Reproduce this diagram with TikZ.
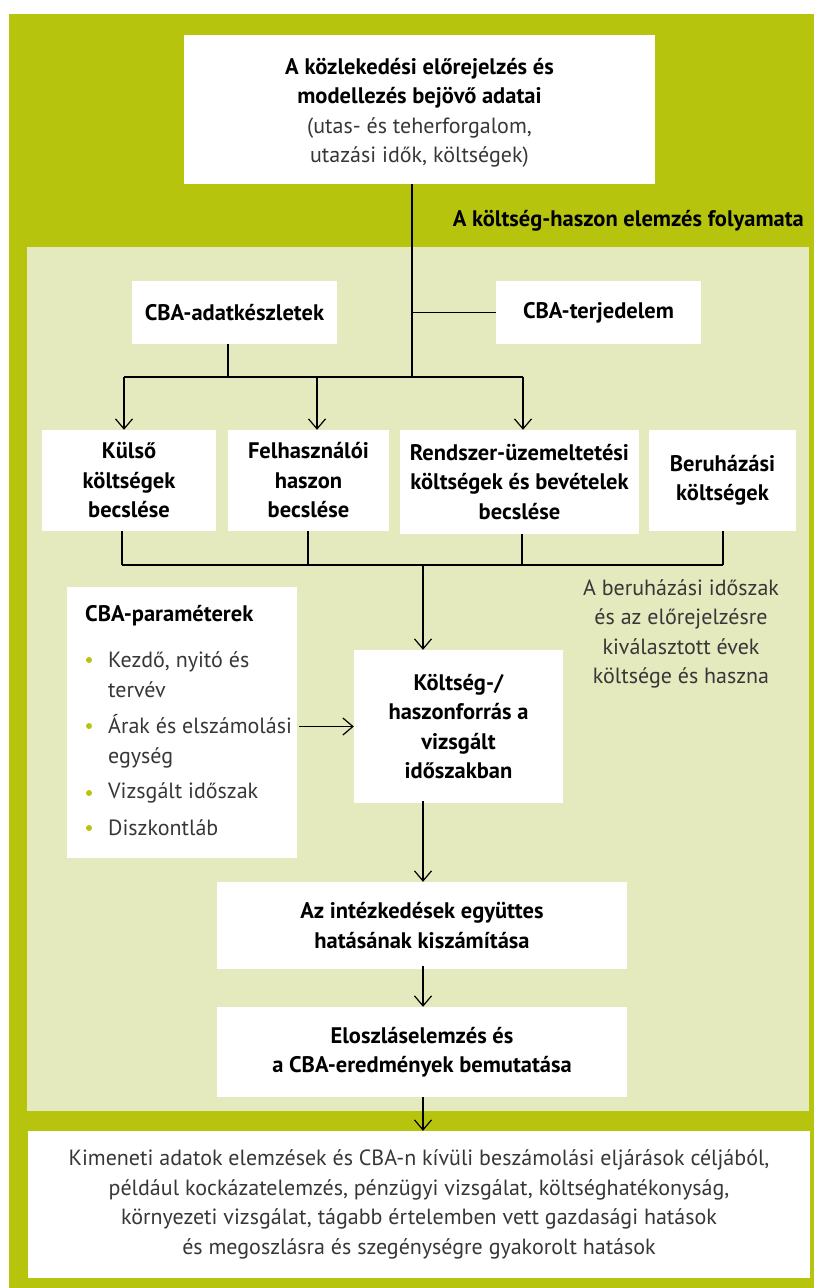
\documentclass[tikz,border=0pt]{standalone}
\usepackage{fontspec}
\setmainfont{PT Sans}
\usetikzlibrary{arrows.meta}
\definecolor{frame}{RGB}{182,196,14}
\definecolor{panel}{RGB}{229,233,190}
\definecolor{txt}{RGB}{55,55,55}
\newcommand{\boldsize}{\fontsize{22.5}{29.5}\selectfont\bfseries}
\newcommand{\plainsize}{\fontsize{22}{29.5}\selectfont}
\tikzset{
  box/.style={fill=white, inner sep=0pt, align=center, font=\boldsize},
  plain/.style={inner sep=0pt, align=center, text=txt, font=\plainsize},
  conn/.style={line width=1.2pt, black},
  arr/.style={conn, -{Straight Barb[length=10pt,width=17pt,line width=1.2pt]}},
  dot/.style={circle, fill=frame, inner sep=0pt, minimum size=6pt}
}
\begin{document}
\begin{tikzpicture}[x=1pt,y=-1pt]
\useasboundingbox (0,0) rectangle (814,1288);
% outer frame and inner process panel
\fill[white] (0,0) rectangle (814,1288);
\fill[frame] (9,14) rectangle (814,1288);
\fill[panel] (27,247) rectangle (809,1111);

% input box
\node[box, minimum width=471pt, minimum height=149pt] (top) at (419.5,109.5) {};
\node[plain] at (419.5,113) {\textcolor{black}{\boldsize A közlekedési előrejelzés és}\\\textcolor{black}{\boldsize modellezés bejövő adatai}\\(utas- és teherforgalom,\\utazási idők, költségek)};

% panel title
\node[anchor=east, inner sep=0pt, font=\boldsize] (title) at (804,221) {A költség-haszon elemzés folyamata};

% CBA inputs
\node[box, minimum width=205pt, minimum height=63pt] (adat) at (234.5,312.5) {CBA-adatkészletek};
\node[box, minimum width=205pt, minimum height=63pt] (terj) at (598.5,312.5) {CBA-terjedelem};

% estimation boxes
\node[box, minimum width=174pt, minimum height=101pt] (kulso) at (129,480.5) {Külső\\költségek\\becslése};
\node[box, minimum width=161pt, minimum height=101pt] (felh) at (308.5,480.5) {Felhasználói\\haszon\\becslése};
\node[box, minimum width=239pt, minimum height=104pt] (rendszer) at (519.5,482) {Rendszer-üzemeltetési\\költségek és bevételek\\becslése};
\node[box, minimum width=147pt, minimum height=101pt] (beruh) at (722.5,480.5) {Beruházási\\költségek};

% cost/benefit stream
\node[box, minimum width=209pt, minimum height=153pt] (koltseg) at (458.5,726.5) {Költség-/\\haszonforrás a\\vizsgált\\időszakban};
\node[plain] (note) at (681,634) {A beruházási időszak\\és az előrejelzésre\\kiválasztott évek\\költsége és haszna};

% parameters box
\node[box, minimum width=230pt, minimum height=271pt] (param) at (182,722.5) {};
\node[anchor=west, inner sep=0pt, font=\boldsize] (ptitle) at (85,616) {CBA-paraméterek};
\node[plain, align=left, anchor=west] (p1) at (108,674.5) {Kezdő, nyitó és\\tervév};
\node[plain, align=left, anchor=west] (p2) at (108,741.5) {Árak és elszámolási\\egység};
\node[plain, align=left, anchor=west] (p3) at (108,793) {Vizsgált időszak};
\node[plain, align=left, anchor=west] (p4) at (108,828) {Diszkontláb};
\node[dot] (d1) at (89,660) {};
\node[dot] (d2) at (89,726) {};
\node[dot] (d3) at (89,793) {};
\node[dot] (d4) at (89,828) {};

% final steps
\node[box, minimum width=410pt, minimum height=87pt] (egyutt) at (422,925.5) {Az intézkedések együttes\\hatásának kiszámítása};
\node[box, minimum width=410pt, minimum height=90pt] (eloszl) at (422,1052) {Eloszláselemzés és\\a CBA-eredmények bemutatása};
\node[box, minimum width=782pt, minimum height=147pt] (output) at (419,1204.5) {};
\node[plain] at (419,1204.5) {Kimeneti adatok elemzések és CBA-n kívüli beszámolási eljárások céljából,\\például kockázatelemzés, pénzügyi vizsgálat, költséghatékonyság,\\környezeti vizsgálat, tágabb értelemben vett gazdasági hatások\\és megoszlásra és szegénységre gyakorolt hatások};

% upper distribution bus
\coordinate (spine) at (412,377);
\coordinate (bl) at (124,377);
\coordinate (bm) at (317,377);
\coordinate (br) at (523,377);
\coordinate (adatdrop) at (228,377);
\draw[conn] (top.south -| spine) -- (spine);
\draw[conn] (terj.west) -- (terj.west -| spine);
\draw[conn] (adat.south -| adatdrop) -- (adatdrop);
\draw[conn] (bl) -- (br);
\draw[arr] (bl) -- (kulso.north -| bl);
\draw[arr] (bm) -- (felh.north -| bm);
\draw[arr] (br) -- (rendszer.north -| br);

% lower collecting bus
\coordinate (c1) at (122,565);
\coordinate (c2) at (308,565);
\coordinate (c3) at (522,565);
\coordinate (c4) at (723,565);
\coordinate (cm) at (423,565);
\draw[conn] (kulso.south -| c1) -- (c1);
\draw[conn] (felh.south -| c2) -- (c2);
\draw[conn] (rendszer.south -| c3) -- (c3);
\draw[conn] (beruh.south -| c4) -- (c4);
\draw[conn] (c1) -- (c4);
\draw[arr] (cm) -- (koltseg.north -| cm);

% parameters into cost/benefit stream
\draw[arr] ([xshift=2pt]param.east |- koltseg.west) -- (koltseg.west);

% main flow downwards
\draw[arr] ([yshift=2pt]koltseg.south -| cm) -- (egyutt.north -| cm);
\draw[arr] ([yshift=3pt]egyutt.south -| cm) -- (eloszl.north -| cm);
\draw[arr] (eloszl.south -| cm) -- (output.north -| cm);
\end{tikzpicture}
\end{document}
